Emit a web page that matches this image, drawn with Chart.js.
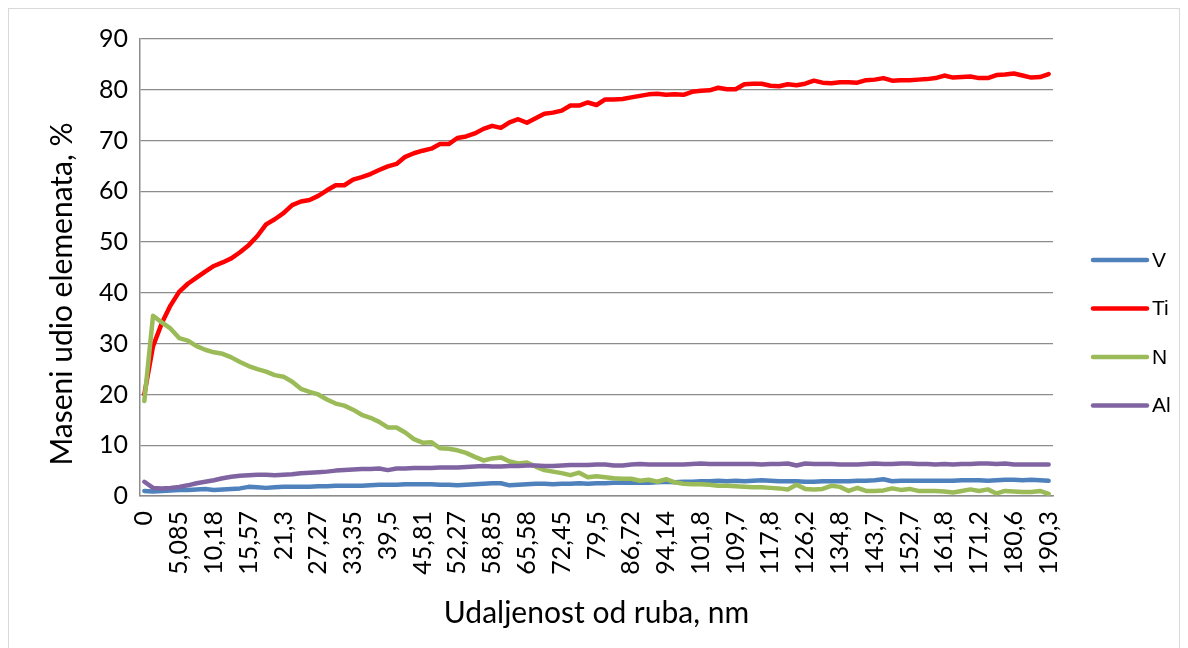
<!DOCTYPE html>
<html>
<head>
<meta charset="utf-8">
<script src="https://cdn.jsdelivr.net/npm/chart.js@4.4.1/dist/chart.umd.min.js"></script>
<style>
  html, body { margin: 0; padding: 0; background: #fff; }
  #wrap { position: relative; width: 1188px; height: 648px; overflow: hidden; }
  #frame { position: absolute; left: 8px; top: 8px; width: 1172px; height: 660px; border: 1px solid #d9d9d9; box-sizing: border-box; }
  #line { position: absolute; left: 0; top: 0; }
</style>
</head>
<body>
<div id="wrap">
  <div id="frame"></div>
  <canvas id="line" width="1188" height="648"></canvas>
</div>
<script>
// distance labels shown on the x axis (every 4th measuring point)
const tickLabels = ["0", "5,085", "10,18", "15,57", "21,3", "27,27", "33,35", "39,5", "45,81",
  "52,27", "58,85", "65,58", "72,45", "79,5", "86,72", "94,14", "101,8", "109,7", "117,8",
  "126,2", "134,8", "143,7", "152,7", "161,8", "171,2", "180,6", "190,3"];
const labelStep = 4;

const seriesNames = ["V", "Ti", "N", "Al"];

const vData = [1.0, 0.9, 1.0, 1.1, 1.2, 1.2, 1.3, 1.4, 1.2, 1.3,
  1.4, 1.5, 1.8, 1.7, 1.6, 1.7, 1.8, 1.8, 1.8, 1.8,
  1.9, 1.9, 2.0, 2.0, 2.0, 2.0, 2.1, 2.2, 2.2, 2.2,
  2.3, 2.3, 2.3, 2.3, 2.2, 2.2, 2.1, 2.2, 2.3, 2.4,
  2.5, 2.5, 2.1, 2.2, 2.3, 2.4, 2.4, 2.3, 2.4, 2.4,
  2.5, 2.4, 2.5, 2.5, 2.6, 2.6, 2.6, 2.6, 2.6, 2.7,
  2.8, 2.7, 2.8, 2.8, 2.9, 2.9, 3.0, 2.9, 3.0, 2.9,
  3.0, 3.1, 3.0, 2.9, 2.9, 2.9, 2.8, 2.8, 2.9, 2.9,
  2.9, 2.9, 3.0, 3.0, 3.1, 3.3, 2.9, 3.0, 3.0, 3.0,
  3.0, 3.0, 3.0, 3.0, 3.1, 3.1, 3.1, 3.0, 3.1, 3.2,
  3.2, 3.1, 3.2, 3.1, 3.0];

const tiData = [20, 29.5, 34, 37.5, 40.2, 41.8, 43, 44.2, 45.3, 46,
  46.8, 48, 49.4, 51.2, 53.5, 54.5, 55.7, 57.3, 58, 58.3,
  59.1, 60.2, 61.2, 61.2, 62.3, 62.8, 63.4, 64.2, 64.9, 65.4,
  66.8, 67.5, 68, 68.4, 69.3, 69.3, 70.5, 70.8, 71.4, 72.3,
  72.9, 72.5, 73.6, 74.2, 73.5, 74.4, 75.3, 75.5, 75.9, 76.9,
  76.9, 77.5, 77, 78.1, 78.1, 78.2, 78.5, 78.8, 79.1, 79.2,
  79, 79.1, 79, 79.6, 79.8, 79.9, 80.4, 80.1, 80.1, 81.1,
  81.2, 81.2, 80.8, 80.7, 81.1, 80.9, 81.2, 81.8, 81.4, 81.3,
  81.5, 81.5, 81.4, 81.9, 82, 82.3, 81.8, 81.9, 81.9, 82,
  82.1, 82.3, 82.8, 82.4, 82.5, 82.6, 82.3, 82.3, 82.9, 83,
  83.2, 82.8, 82.4, 82.5, 83.1];

const nData = [18.7, 35.5, 34.2, 33, 31.1, 30.6, 29.5, 28.8, 28.3, 28,
  27.3, 26.4, 25.6, 25, 24.5, 23.8, 23.5, 22.5, 21.1, 20.5,
  20, 19, 18.2, 17.8, 17, 16, 15.4, 14.6, 13.5, 13.5,
  12.5, 11.2, 10.5, 10.6, 9.4, 9.3, 9, 8.5, 7.7, 7,
  7.4, 7.6, 6.8, 6.4, 6.6, 5.8, 5.1, 4.8, 4.5, 4.1,
  4.6, 3.7, 3.9, 3.7, 3.5, 3.4, 3.4, 3, 3.2, 2.8,
  3.3, 2.7, 2.4, 2.3, 2.3, 2.2, 2, 2, 1.9, 1.8,
  1.7, 1.7, 1.6, 1.5, 1.3, 2.2, 1.4, 1.3, 1.4, 2,
  1.8, 1, 1.6, 1, 1, 1.1, 1.5, 1.2, 1.4, 1,
  1, 1, 0.9, 0.7, 1, 1.3, 1, 1.3, 0.5, 1,
  0.9, 0.8, 0.8, 1, 0.4];

const alData = [2.8, 1.6, 1.5, 1.6, 1.8, 2.1, 2.5, 2.8, 3.1, 3.5,
  3.8, 4.0, 4.1, 4.2, 4.2, 4.1, 4.2, 4.3, 4.5, 4.6,
  4.7, 4.8, 5.0, 5.1, 5.2, 5.3, 5.3, 5.4, 5.1, 5.4,
  5.4, 5.5, 5.5, 5.5, 5.6, 5.6, 5.6, 5.7, 5.8, 5.9,
  5.8, 5.8, 5.9, 5.9, 6.0, 6.0, 5.9, 5.9, 6.0, 6.1,
  6.1, 6.1, 6.2, 6.2, 6.0, 6.0, 6.2, 6.3, 6.2, 6.2,
  6.2, 6.2, 6.2, 6.3, 6.4, 6.3, 6.3, 6.3, 6.3, 6.3,
  6.3, 6.2, 6.3, 6.3, 6.4, 6.0, 6.4, 6.3, 6.3, 6.3,
  6.2, 6.2, 6.2, 6.3, 6.4, 6.3, 6.3, 6.4, 6.4, 6.3,
  6.3, 6.2, 6.3, 6.2, 6.3, 6.3, 6.4, 6.4, 6.3, 6.4,
  6.2, 6.2, 6.2, 6.2, 6.2];

const colors = ["#4F81BD", "#FF0000", "#9BBB59", "#8064A2"];

const yTitle = "Maseni udio elemenata, %";

// one category per measuring point, only every 4th one carries a label
const categories = vData.map((v, i) => (i % labelStep === 0 ? tickLabels[i / labelStep] : ""));

const gridGrey = "#8c8c8c";
const labelFont = "Lato";

// legend drawn at the right, one entry every ~48px
const sideLegend = {
  id: "sideLegend",
  afterDraw(chart) {
    const ctx = chart.ctx;
    ctx.save();
    chart.data.datasets.forEach((ds, i) => {
      const y = 260 + i * 48.5;
      ctx.strokeStyle = ds.borderColor;
      ctx.lineWidth = 4.5;
      ctx.lineCap = "round";
      ctx.beginPath();
      ctx.moveTo(1093, y);
      ctx.lineTo(1147, y);
      ctx.stroke();
      ctx.fillStyle = "#000";
      ctx.font = '21px "Liberation Sans"';
      ctx.textBaseline = "middle";
      ctx.fillText(ds.label, 1152, y + 1);
    });
    ctx.restore();
  }
};

// y axis title sits a bit lower than the plot centre, so draw it by hand
const sideTitle = {
  id: "sideTitle",
  afterDraw(chart) {
    const ctx = chart.ctx;
    ctx.save();
    ctx.translate(62, 294);
    ctx.rotate(-Math.PI / 2);
    ctx.fillStyle = "#000";
    ctx.font = '30px "' + labelFont + '"';
    ctx.textAlign = "center";
    ctx.textBaseline = "middle";
    ctx.fillText(yTitle, 0, 0);
    ctx.restore();
  }
};

const ctx = document.getElementById("line");
const series = [vData, tiData, nData, alData];

new Chart(ctx, {
  type: "line",
  data: {
    labels: categories,
    datasets: series.map((d, i) => ({
      label: seriesNames[i],
      data: d,
      borderColor: colors[i],
      backgroundColor: colors[i],
      borderWidth: 4.5,
      pointRadius: 0,
      tension: 0,
      borderJoinStyle: "round",
      borderCapStyle: "round",
      order: 4 - i,
    })),
  },
  options: {
    responsive: false,
    animation: false,
    layout: { padding: { left: 0, top: 39, right: 135, bottom: 0 } },
    plugins: {
      legend: { display: false },
      tooltip: { enabled: false },
    },
    scales: {
      x: {
        offset: true,
        grid: { display: false, drawTicks: false },
        border: { color: gridGrey, width: 1.5 },
        ticks: {
          autoSkip: false,
          maxRotation: 90,
          minRotation: 90,
          padding: 15,
          color: "#000",
          font: { family: labelFont, size: 25 },
        },
        title: {
          display: true,
          text: "Udaljenost od ruba, nm",
          color: "#000",
          font: { family: labelFont, size: 30 },
          padding: { top: 0, bottom: 17 },
        },
        afterFit(scale) { scale.height = 152; },
      },
      y: {
        min: 0,
        max: 90,
        grid: { color: gridGrey, lineWidth: 1.3, drawTicks: false },
        border: { color: gridGrey, width: 1.5 },
        ticks: {
          stepSize: 10,
          padding: 12,
          color: "#000",
          font: { family: labelFont, size: 25 },
        },
        afterFit(scale) { scale.width = 140; },
      },
    },
  },
  plugins: [sideLegend, sideTitle],
});
</script>
</body>
</html>
